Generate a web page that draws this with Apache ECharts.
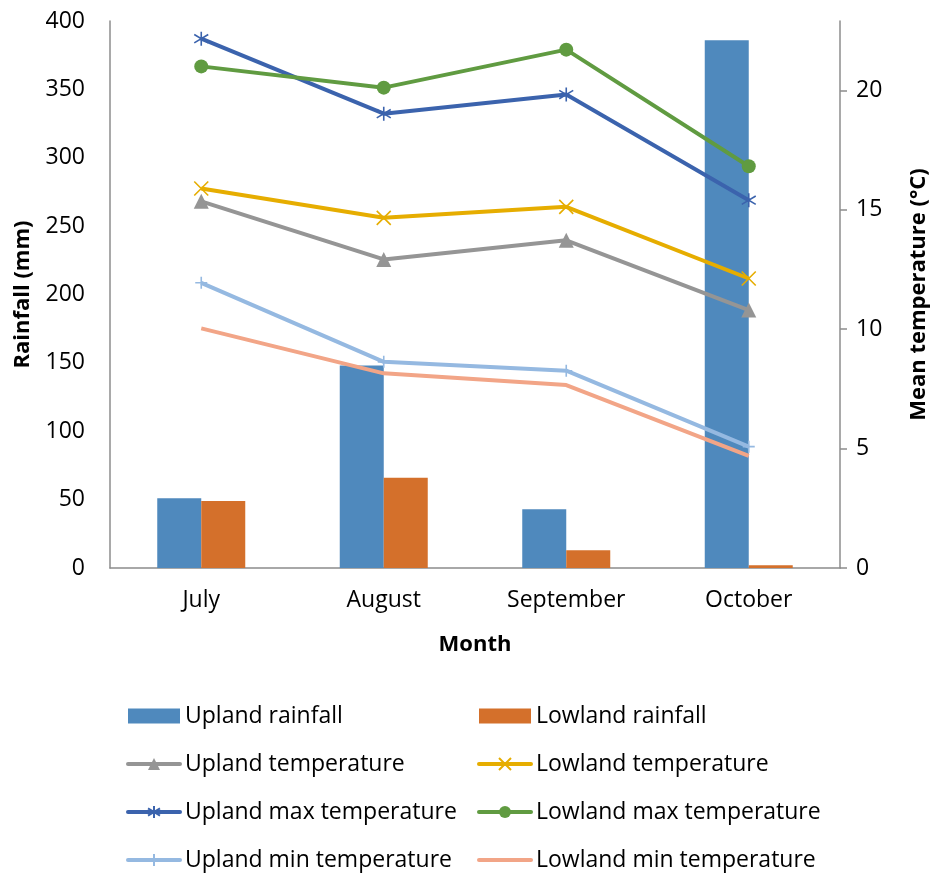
<!DOCTYPE html>
<html><head><meta charset="utf-8">
<script src="https://cdn.jsdelivr.net/npm/echarts@6/dist/echarts.min.js"></script>
<style>html,body{margin:0;padding:0;background:#fff}#c{width:933px;height:875px}</style>
</head><body><div id="c"></div>
<script>
const months = ['July', 'August', 'September', 'October'];
const uplandRain = [51, 148, 43, 386];
const lowlandRain = [49, 66, 13, 2];
const uplandTemp = [15.35, 12.92, 13.72, 10.8];
const lowlandTemp = [15.89, 14.66, 15.12, 12.12];
const uplandMax = [22.16, 19.02, 19.82, 15.4];
const lowlandMax = [21.0, 20.11, 21.7, 16.82];
const uplandMin = [11.94, 8.63, 8.26, 5.08];
const lowlandMin = [10.03, 8.15, 7.66, 4.69];
const tempTicks = [0, 5, 10, 15, 20];

const FONT = 'Open Sans';
const X_PATH = 'path://M0,0L10,10M10,0L0,10';
const STAR_PATH = 'path://M5,0L5,10M0,2L10,8M0,8L10,2';
const PLUS_PATH = 'path://M5,0L5,10M1,5L9,5';

function lineSeries(name, data, color, symbol, size, stroke) {
  return {
    name, type: 'line', yAxisIndex: 1, data,
    symbol, symbolSize: size, z: 5,
    lineStyle: { color, width: 4 },
    itemStyle: { color, borderColor: color, borderWidth: stroke ? 1.6 : 0 },
    emphasis: { disabled: true }
  };
}

const legendBase = {
  orient: 'vertical', top: 704, height: 170, padding: 0,
  itemWidth: 52, itemHeight: 15, itemGap: 24,
  lineStyle: { width: 4, cap: 'round' },
  textStyle: { fontFamily: FONT, fontSize: 23, color: '#000', lineHeight: 24 }
};

const chart = echarts.init(document.getElementById('c'));
chart.setOption({
  animation: false,
  textStyle: { fontFamily: FONT },
  grid: { left: 110, right: 93, top: 21, bottom: 307, outerBoundsMode: 'none', containLabel: false },
  xAxis: {
    type: 'category', data: months,
    name: 'Month', nameLocation: 'middle', nameGap: 66,
    nameTextStyle: { fontFamily: FONT, fontSize: 22, fontWeight: 'bold', color: '#000' },
    axisLine: { lineStyle: { color: '#8c8c8c', width: 1.5 } },
    axisTick: { show: false },
    axisLabel: { fontFamily: FONT, fontSize: 23, color: '#000', margin: 21 }
  },
  yAxis: [{
    type: 'value', min: 0, max: 400, interval: 50,
    name: 'Rainfall (mm)', nameLocation: 'middle', nameRotate: 90, nameGap: 76,
    nameTextStyle: { fontFamily: FONT, fontSize: 22, fontWeight: 'bold', color: '#000' },
    axisLine: { show: true, lineStyle: { color: '#8c8c8c', width: 1.5 } },
    axisTick: { show: false },
    splitLine: { show: false },
    axisLabel: { fontFamily: FONT, fontSize: 23, color: '#000', margin: 25 }
  }, {
    type: 'value', min: 0, max: 22.9, interval: 5,
    name: 'Mean temperature (°C)', nameLocation: 'middle', nameRotate: 90, nameGap: 68,
    nameTextStyle: { fontFamily: FONT, fontSize: 22, fontWeight: 'bold', color: '#000' },
    axisLine: { show: true, lineStyle: { color: '#8c8c8c', width: 1.5 } },
    axisTick: { show: true, length: 7, lineStyle: { color: '#8c8c8c', width: 1.5 }, customValues: tempTicks },
    splitLine: { show: false },
    axisLabel: { fontFamily: FONT, fontSize: 23, color: '#000', margin: 16, customValues: tempTicks,
      formatter: v => (v % 5 === 0 ? String(v) : '') }
  }],
  legend: [Object.assign({}, legendBase, {
    left: 126,
    data: [{ name: 'Upland rainfall', icon: 'rect' }, 'Upland temperature', 'Upland max temperature', 'Upland min temperature']
  }), Object.assign({}, legendBase, {
    left: 477,
    data: [{ name: 'Lowland rainfall', icon: 'rect' }, 'Lowland temperature', 'Lowland max temperature',
      { name: 'Lowland min temperature', itemStyle: { opacity: 0 } }]
  })],
  series: [
    { name: 'Upland rainfall', type: 'bar', data: uplandRain, barWidth: 44, barGap: '0%',
      itemStyle: { color: '#4f89bd' }, z: 2 },
    { name: 'Lowland rainfall', type: 'bar', data: lowlandRain, barWidth: 44, barGap: '0%',
      itemStyle: { color: '#d4702b' }, z: 2 },
    lineSeries('Upland temperature', uplandTemp, '#959595', 'triangle', 15, false),
    lineSeries('Lowland temperature', lowlandTemp, '#e6ad00', X_PATH, 14, true),
    lineSeries('Upland max temperature', uplandMax, '#3b63ad', STAR_PATH, 14, true),
    lineSeries('Lowland max temperature', lowlandMax, '#609b41', 'circle', 14, false),
    lineSeries('Upland min temperature', uplandMin, '#95b9e1', PLUS_PATH, 12, true),
    lineSeries('Lowland min temperature', lowlandMin, '#f2a587', 'none', 0, false)
  ]
});
</script></body></html>
